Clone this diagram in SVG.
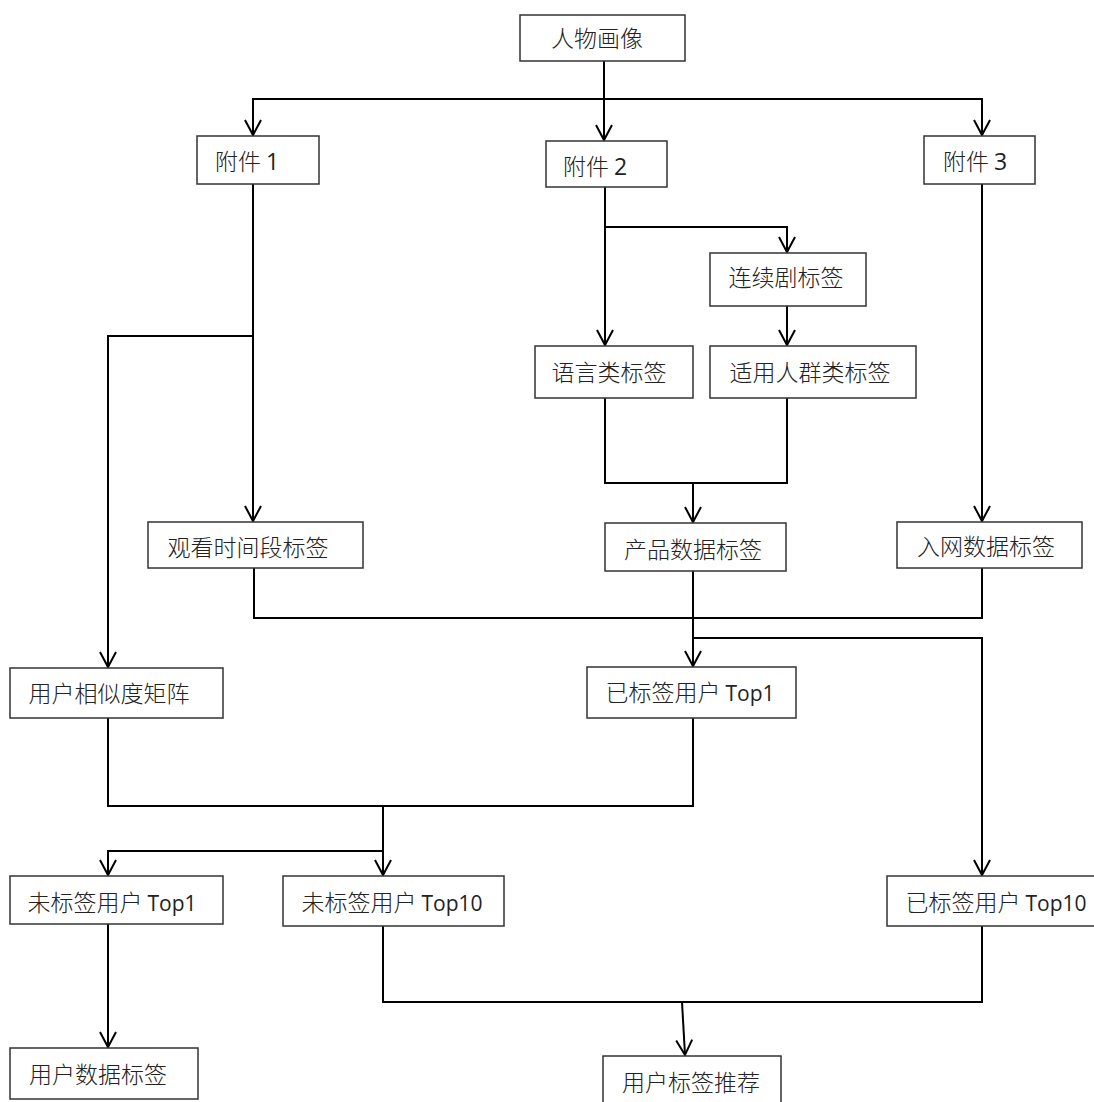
<svg xmlns="http://www.w3.org/2000/svg" width="1094" height="1102" viewBox="0 0 1094 1102">
<defs>
<style>
.box{fill:#fff;stroke:#333;stroke-width:1.5}
.lbl{font-family:"Noto Sans CJK SC","Liberation Sans",sans-serif;font-size:23px;fill:#222;text-anchor:middle;font-weight:300}
.lat{font-family:"Open Sans","Liberation Sans",sans-serif;font-size:21px;font-weight:400}
.dig{font-family:"Open Sans","Liberation Sans",sans-serif;font-size:23px;font-weight:400}
.con{fill:none;stroke:#000;stroke-width:2}
</style>
<marker id="arr" markerUnits="userSpaceOnUse" markerWidth="20" markerHeight="20" viewBox="-16 -10 18 20" refX="0" refY="0" orient="auto" overflow="visible">
<path d="M-15,-8 L0,0 L-15,8" fill="none" stroke="#000" stroke-width="2"/>
</marker>
</defs>
<rect width="1094" height="1102" fill="#fff"/>
<g id="connectors">
<path class="con" d="M604,61 V140" marker-end="url(#arr)"/>
<path class="con" d="M604,99 H253 V135" marker-end="url(#arr)"/>
<path class="con" d="M604,99 H982 V135" marker-end="url(#arr)"/>
<path class="con" d="M605,187 V345" marker-end="url(#arr)"/>
<path class="con" d="M605,227 H787 V252" marker-end="url(#arr)"/>
<path class="con" d="M787,306 V345" marker-end="url(#arr)"/>
<path class="con" d="M605,398 V483 H787 V398"/>
<path class="con" d="M693,483 V522" marker-end="url(#arr)"/>
<path class="con" d="M253,184 V521" marker-end="url(#arr)"/>
<path class="con" d="M253,336 H108 V667" marker-end="url(#arr)"/>
<path class="con" d="M982,184 V521" marker-end="url(#arr)"/>
<path class="con" d="M254,568 V618 H982 V568"/>
<path class="con" d="M693,571 V666" marker-end="url(#arr)"/>
<path class="con" d="M693,638 H982 V875" marker-end="url(#arr)"/>
<path class="con" d="M108,718 V806 H693 V718"/>
<path class="con" d="M383,806 V875" marker-end="url(#arr)"/>
<path class="con" d="M383,851 H108 V875" marker-end="url(#arr)"/>
<path class="con" d="M108,924 V1047" marker-end="url(#arr)"/>
<path class="con" d="M383,926 V1002 H982 V926"/>
<path class="con" d="M682,1002 L685,1055" marker-end="url(#arr)"/>
</g>
<g id="n-renwu"><rect class="box" x="520" y="15" width="165" height="46"/><text class="lbl" x="597" y="47">人物画像</text></g>
<g id="n-fj1"><rect class="box" x="197" y="136" width="122" height="48"/><text class="lbl" x="247" y="170">附件 <tspan class="dig">1</tspan></text></g>
<g id="n-fj2"><rect class="box" x="546" y="141" width="121" height="46"/><text class="lbl" x="595" y="175">附件 <tspan class="dig">2</tspan></text></g>
<g id="n-fj3"><rect class="box" x="924" y="136" width="111" height="48"/><text class="lbl" x="975" y="170">附件 <tspan class="dig">3</tspan></text></g>
<g id="n-lxj"><rect class="box" x="710" y="253" width="156" height="53"/><text class="lbl" x="786" y="286">连续剧标签</text></g>
<g id="n-yy"><rect class="box" x="535" y="346" width="158" height="52"/><text class="lbl" x="609" y="381">语言类标签</text></g>
<g id="n-syrq"><rect class="box" x="710" y="346" width="206" height="52"/><text class="lbl" x="810" y="381">适用人群类标签</text></g>
<g id="n-gksj"><rect class="box" x="148" y="522" width="215" height="46"/><text class="lbl" x="248" y="556">观看时间段标签</text></g>
<g id="n-cp"><rect class="box" x="605" y="523" width="181" height="48"/><text class="lbl" x="693" y="558">产品数据标签</text></g>
<g id="n-rw"><rect class="box" x="897" y="522" width="185" height="46"/><text class="lbl" x="986" y="555">入网数据标签</text></g>
<g id="n-xsd"><rect class="box" x="10" y="668" width="213" height="50"/><text class="lbl" x="109" y="702">用户相似度矩阵</text></g>
<g id="n-ybq1"><rect class="box" x="587" y="667" width="209" height="51"/><text class="lbl" x="690" y="701">已标签用户 <tspan class="lat">Top1</tspan></text></g>
<g id="n-wbq1"><rect class="box" x="10" y="876" width="213" height="48"/><text class="lbl" x="112" y="911">未标签用户 <tspan class="lat">Top1</tspan></text></g>
<g id="n-wbq10"><rect class="box" x="283" y="876" width="221" height="50"/><text class="lbl" x="392" y="911">未标签用户 <tspan class="lat">Top10</tspan></text></g>
<g id="n-ybq10"><rect class="box" x="887" y="876" width="210" height="50"/><text class="lbl" x="996" y="911">已标签用户 <tspan class="lat">Top10</tspan></text></g>
<g id="n-yhsj"><rect class="box" x="10" y="1048" width="188" height="51"/><text class="lbl" x="98" y="1083">用户数据标签</text></g>
<g id="n-tj"><rect class="box" x="603" y="1056" width="178" height="50"/><text class="lbl" x="691" y="1091">用户标签推荐</text></g>
</svg>
